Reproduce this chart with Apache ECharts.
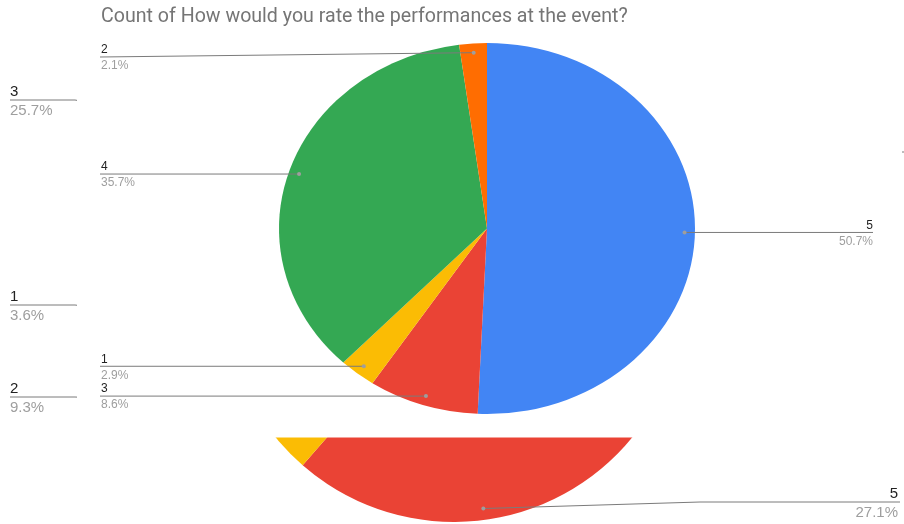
<!DOCTYPE html>
<html>
<head>
<meta charset="utf-8">
<script src="https://cdn.jsdelivr.net/npm/echarts@6/dist/echarts.min.js"></script>
<style>html,body{margin:0;padding:0;background:#fff;}#chart{width:904px;height:524px;}</style>
</head>
<body>
<div id="chart"></div>
<script>
// Front chart: Count of How would you rate the performances at the event?
const categoriesA = ['5', '3', '1', '4', '2'];
const valuesA = [71, 12, 4, 50, 3];
// Chart partly hidden behind it
const categoriesB = ['4', '5', '2', '1', '3'];
const valuesB = [48, 38, 13, 5, 36];
const sliceColors = ['#4285F4', '#EA4335', '#FBBC04', '#34A853', '#FF6D01'];
const titleText = 'Count of How would you rate the performances at the event?';

// layout (not data)
const FONT = '"Liberation Sans", Arial, sans-serif';
const geoA = { cx: 487, cy: 228.5, rx: 208, ry: 185.5, font: 12, leftX: 100, rightX: 873, minY: 57 };
const geoB = { cx: 454, cy: 292, rx: 230, ry: 230, font: 15, leftX: 10, leftEnd: 75, rightX: 898, rightBend: 700 };
const labelRowB = { '3': 100, '1': 305, '2': 397, '5': 502, '4': 152 };

function pct(v, total) { return (v / total * 100).toFixed(1) + '%'; }

function makeRender(cats, vals, geo, isFront) {
  const total = vals.reduce((a, b) => a + b, 0);
  return function (params, api) {
    const i = params.dataIndex;
    const v = api.value(1);
    let before = 0;
    for (let k = 0; k < i; k++) before += vals[k];
    const a0 = before / total * Math.PI * 2;
    const a1 = (before + v) / total * Math.PI * 2;
    const mid = (a0 + a1) / 2;
    const children = [{
      type: 'sector',
      x: geo.cx, y: geo.cy, scaleY: geo.ry / geo.rx,
      shape: { cx: 0, cy: 0, r0: 0, r: geo.rx, startAngle: a0 - Math.PI / 2, endAngle: a1 - Math.PI / 2, clockwise: true },
      style: { fill: sliceColors[i] }
    }];
    const dx = geo.cx + 0.95 * geo.rx * Math.sin(mid);
    const dy = geo.cy - 0.95 * geo.ry * Math.cos(mid);
    const right = Math.sin(mid) > 0;
    let pts, tx, align, ly;
    if (isFront) {
      ly = Math.max(dy, geo.minY);
      if (right) { pts = [[dx, dy], [geo.rightX, ly]]; tx = geo.rightX; align = 'right'; }
      else { pts = [[dx, dy], [geo.leftX, ly]]; tx = geo.leftX + 1; align = 'left'; }
    } else {
      ly = labelRowB[cats[i]];
      if (right) {
        if (ly < 300) { pts = [[dx, dy], [880, ly], [1000, ly]]; tx = 1000; }
        else { pts = [[dx, dy], [geo.rightBend, ly], [geo.rightX + 2, ly]]; tx = geo.rightX; }
        align = 'right';
      } else { pts = [[dx, dy], [geo.leftEnd, ly], [geo.leftX, ly]]; tx = geo.leftX; align = 'left'; }
    }
    children.push({ type: 'polyline', z2: 10, shape: { points: pts }, style: { stroke: '#7b7b7b', lineWidth: 1, fill: null } });
    children.push({ type: 'circle', z2: 11, shape: { cx: dx, cy: dy, r: 2 }, style: { fill: '#9e9e9e' } });
    children.push({ type: 'text', z2: 12, x: tx, y: ly - 1, style: { text: cats[i], fill: '#222222', fontSize: geo.font, fontFamily: FONT, align: align, verticalAlign: 'bottom' } });
    children.push({ type: 'text', z2: 12, x: tx, y: ly + 3, style: { text: pct(v, total), fill: '#9e9e9e', fontSize: geo.font, fontFamily: FONT, align: align, verticalAlign: 'top' } });
    return { type: 'group', children: children };
  };
}

const chart = echarts.init(document.getElementById('chart'), null, { renderer: 'canvas' });
chart.setOption({
  backgroundColor: '#ffffff',
  animation: false,
  title: { text: titleText, left: 101, top: 7, padding: 0, z: 30, textStyle: { fontFamily: 'Roboto', fontSize: 19.6, fontWeight: 'normal', color: '#757575' } },
  graphic: [{ type: 'rect', z: 5, shape: { x: 77, y: 0, width: 825, height: 437.5 }, style: { fill: '#ffffff' } }],
  series: [
    { type: 'custom', coordinateSystem: 'none', z: 1, renderItem: makeRender(categoriesB, valuesB, geoB, false),
      data: valuesB.map((v, i) => [i, v]) },
    { type: 'custom', coordinateSystem: 'none', z: 10, renderItem: makeRender(categoriesA, valuesA, geoA, true),
      data: valuesA.map((v, i) => [i, v]) }
  ]
});
</script>
</body>
</html>
